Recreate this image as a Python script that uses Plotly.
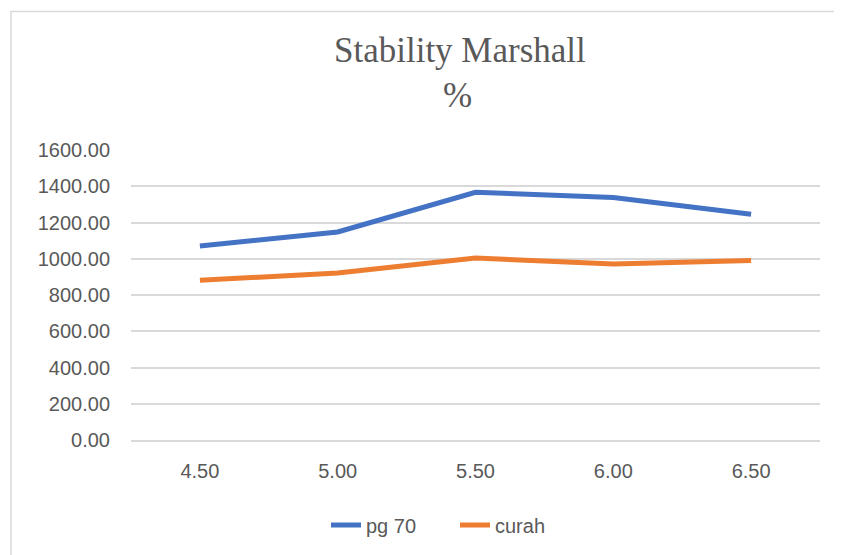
import plotly.graph_objects as go

categories = ["4.50", "5.00", "5.50", "6.00", "6.50"]
pg70 = [1070, 1148, 1367, 1338, 1246]
curah = [881, 922, 1004, 971, 991]
y_ticks = [0, 200, 400, 600, 800, 1000, 1200, 1400, 1600]
y_tick_labels = ["%.2f" % v for v in y_ticks]

OFF = 8  # page body margin in the viewer
W, H = 842 - OFF, 555 - OFF
L, T = 131 - OFF, 150 - OFF
R = W - (820 - OFF)
B = H - (441 - OFF)
pw, ph = W - L - R, H - T - B

def px_x(p):
    return (p - OFF - L) / pw

def px_y(p):
    return (H - B - (p - OFF)) / ph

fig = go.Figure()
fig.add_trace(go.Scatter(x=categories, y=pg70, mode="lines", name="pg 70",
                         line=dict(color="#4472C4", width=5)))
fig.add_trace(go.Scatter(x=categories, y=curah, mode="lines", name="curah",
                         line=dict(color="#ED7D31", width=5)))

title_font = dict(family="Liberation Serif", size=35, color="#595959")
fig.update_layout(
    width=W, height=H,
    margin=dict(l=L, r=R, t=T, b=B),
    paper_bgcolor="white", plot_bgcolor="white",
    font=dict(family="Liberation Sans", size=20, color="#595959"),
    showlegend=True,
    legend=dict(orientation="h", x=px_x(326), xanchor="left", y=px_y(525), yanchor="middle",
                entrywidth=84, entrywidthmode="pixels",
                font=dict(size=20, color="#595959"), traceorder="normal"),
    xaxis=dict(type="category", range=[-0.5, 4.5], showgrid=False,
               showline=True, linecolor="#D9D9D9", linewidth=1.5,
               ticks="", ticklabelstandoff=12, tickfont=dict(size=20, color="#595959")),
    yaxis=dict(range=[0, 1600], tickvals=y_ticks, ticktext=y_tick_labels,
               showgrid=True, gridcolor="#D9D9D9", gridwidth=1.5, zeroline=False,
               showline=False, ticks="", ticklabelstandoff=20,
               tickfont=dict(size=20, color="#595959")),
    annotations=[
        dict(text="Stability Marshall", xref="paper", yref="paper", x=px_x(459.5), y=px_y(50),
             xanchor="center", yanchor="middle", showarrow=False, font=title_font),
        dict(text="%", xref="paper", yref="paper", x=px_x(457), y=px_y(95),
             xanchor="center", yanchor="middle", showarrow=False, font=title_font),
    ],
    shapes=[dict(type="rect", xref="paper", yref="paper",
                 x0=px_x(11), x1=px_x(860), y0=px_y(580), y1=px_y(11),
                 line=dict(color="#D9D9D9", width=1.5), fillcolor="rgba(0,0,0,0)", layer="below")],
)

fig.write_html("out.html")
